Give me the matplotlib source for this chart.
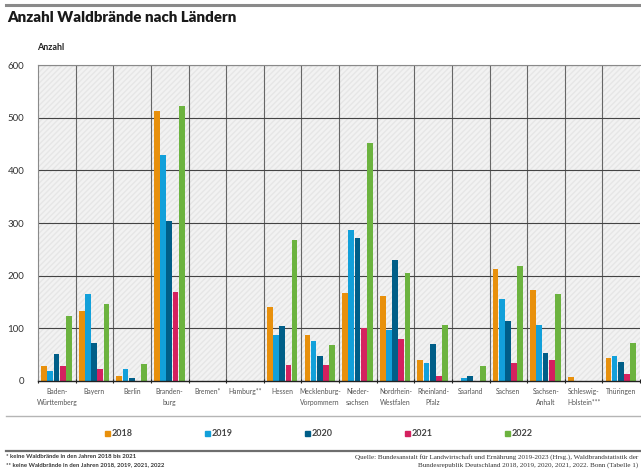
import numpy as np
import matplotlib
matplotlib.use('Agg')
import matplotlib.pyplot as plt
from matplotlib.patches import Rectangle
from matplotlib.lines import Line2D

# ─────────────────────────────────────────────
# DATA
# ─────────────────────────────────────────────
laender = ['Baden-\nWürttemberg', 'Bayern', 'Berlin', 'Branden-\nburg', 'Bremen*',
           'Hamburg**', 'Hessen', 'Mecklenburg-\nVorpommern', 'Nieder-\nsachsen',
           'Nordrhein-\nWestfalen', 'Rheinland-\nPfalz', 'Saarland', 'Sachsen',
           'Sachsen-\nAnhalt', 'Schleswig-\nHolstein***', 'Thüringen']
years = ['2018', '2019', '2020', '2021', '2022']

v2018 = [29, 133, 10, 512, 0, 0, 141, 88, 168, 161, 39, 0, 213, 173, 8, 44]
v2019 = [19, 165, 23, 430, 0, 0, 87, 76, 286, 96, 35, 6, 156, 106, 0, 47]
v2020 = [52, 72, 5, 303, 0, 0, 104, 47, 272, 230, 70, 9, 114, 54, 0, 37]
v2021 = [29, 23, 0, 169, 0, 0, 30, 30, 100, 80, 9, 0, 35, 40, 0, 13]
v2022 = [124, 146, 32, 523, 0, 0, 267, 68, 452, 205, 106, 29, 218, 165, 0, 73]

colors = ['#e8900c', '#12a0da', '#005e88', '#d4215f', '#6cb33f']

# ─────────────────────────────────────────────
# FIGURE
# ─────────────────────────────────────────────
plt.rcParams['font.family'] = ['Lato', 'DejaVu Sans']
fig = plt.figure(figsize=(6.41, 4.71), dpi=100)

# top rule + title
fig.add_artist(Line2D([6/641, 1], [1-5/471]*2, color='#8a8a8a', lw=2.2))
fig.text(7/641, 1-18/471, 'Anzahl Waldbrände nach Ländern', fontsize=10.8,
         fontweight='heavy', color='#1a1a1a', va='center', ha='left')

ax = fig.add_axes([38/641, 1-381/471, 602/641, 316/471])
ax.set_facecolor('#f2f2f2')
bg = Rectangle((0, 0), 1, 1, transform=ax.transAxes, facecolor='none',
               edgecolor='#e6e6e6', hatch='//////', lw=0, zorder=0)
ax.add_patch(bg)

n = len(laender)
x = np.arange(n)
series = [v2018, v2019, v2020, v2021, v2022]
step = 0.165
for i, (vals, c) in enumerate(zip(series, colors)):
    ax.bar(x + 0.49 + (i - 2) * step, vals, width=0.152, color=c,
           zorder=3, linewidth=0)

ax.set_xlim(0, n)
ax.set_ylim(0, 600)
ax.set_yticks(range(0, 601, 100))
ax.set_xticks(np.arange(0, n + 1), minor=False)
ax.set_xticklabels([])
ax.set_xticks(x + 0.5, minor=True)
ax.set_xticklabels(laender, minor=True, fontsize=4.9, color='#555555',
                   linespacing=1.6)
ax.tick_params(axis='x', which='minor', length=0, pad=5)
ax.tick_params(axis='x', which='major', length=2.5, width=0.8, color='#222222',
               direction='inout')
ax.tick_params(axis='y', length=0, labelsize=7, labelcolor='#333333', pad=10)

for xv in range(1, n):
    ax.axvline(xv, color='#666666', lw=0.8, zorder=1)
for yv in range(100, 601, 100):
    ax.axhline(yv, color='#444444', lw=0.8, zorder=1)

for s in ['top', 'right', 'left']:
    ax.spines[s].set_color('#8a8a8a')
    ax.spines[s].set_linewidth(0.8)
ax.spines['right'].set_visible(False)
ax.spines['bottom'].set_color('#222222')
ax.spines['bottom'].set_linewidth(1.0)
ax.spines['bottom'].set_zorder(4)

fig.text(37/641, 1-47/471, 'Anzahl', fontsize=6.5, fontweight='bold',
         color='#222222', va='center', ha='left')

# legend area
fig.add_artist(Line2D([6/641, 1], [1-416/471]*2, color='#b5b5b5', lw=1.0))
for k, (yr, c) in enumerate(zip(years, colors)):
    lx = (105 + k * 100) / 641
    ly = 1 - 433/471
    fig.add_artist(Rectangle((lx, ly - 2.5/471), 5/641, 5/471, color=c,
                             transform=fig.transFigure))
    fig.text(lx + 7/641, ly, yr, fontsize=6.5, color='#444444', va='center',
             ha='left', fontweight='bold')
fig.add_artist(Line2D([6/641, 1], [1-451/471]*2, color='#6e6e6e', lw=1.6))

fig.text(6/641, 1-457/471, '* keine Waldbrände in den Jahren 2018 bis 2021',
         fontsize=4.3, color='#333333', va='center', ha='left', fontweight='bold')
fig.text(6/641, 1-465/471, '** keine Waldbrände in den Jahren 2018, 2019, 2021, 2022',
         fontsize=4.3, color='#333333', va='center', ha='left', fontweight='bold')
fig.text(638/641, 1-457/471,
         'Quelle: Bundesanstalt für Landwirtschaft und Ernährung 2019-2023 (Hrsg.), '
         'Waldbrandstatistik der', fontsize=5.1, family='Liberation Serif',
         color='#333333', va='center', ha='right')
fig.text(638/641, 1-465/471,
         'Bundesrepublik Deutschland 2018, 2019, 2020, 2021, 2022. Bonn (Tabelle 1)',
         fontsize=5.1, family='Liberation Serif', color='#333333', va='center',
         ha='right')

fig.savefig('out.png', dpi=100)
plt.close(fig)
